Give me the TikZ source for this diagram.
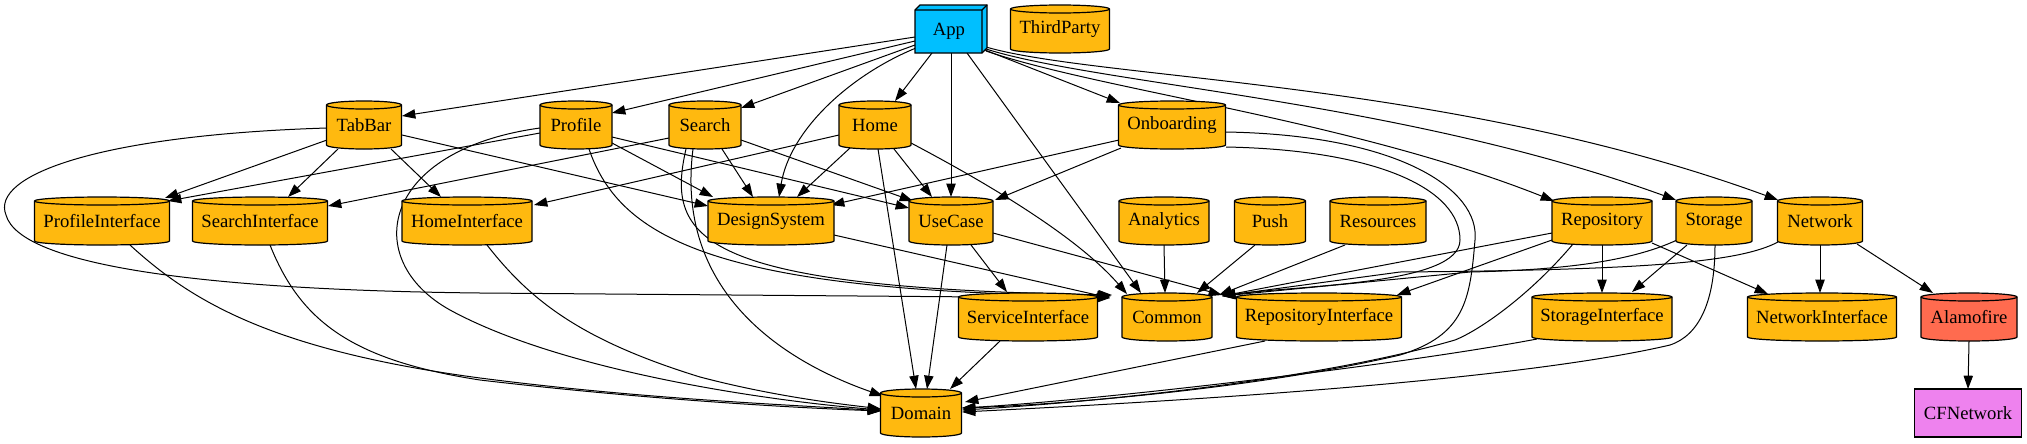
\documentclass[tikz,border=0pt]{standalone}
\usepackage{fontspec}
\setmainfont{Liberation Serif}
\newfontfamily\diagfont{Liberation Serif}
\usetikzlibrary{arrows.meta}
\definecolor{cylcol}{HTML}{FFB90F}
\definecolor{appcol}{HTML}{00BFFF}
\definecolor{alamocol}{HTML}{FF6B4F}
\definecolor{cfcol}{HTML}{EE82EE}
\pgfdeclarelayer{edgelayer}
\pgfsetlayers{edgelayer,main}
\tikzset{
  lbl/.style={inner sep=0pt, minimum height=36pt, font=\diagfont\fontsize{14}{16}\selectfont},
  conn/.style={draw=black, line width=0.75pt, -{Triangle[length=10pt,width=7pt]}},
  nodeline/.style={draw=black, line width=0.9pt},
}
\newcommand\cylnode[5][cylcol]{%
  \begin{scope}[shift={(#3,#4)}]
    \filldraw[fill=#1, nodeline] ({-#5/2},-20) -- ({-#5/2},20)
      arc[start angle=180,end angle=360,x radius={#5*0.375pt},y radius=3pt]
      -- ({#5/2},-20)
      arc[start angle=0,end angle=180,x radius={#5*0.375pt},y radius=3pt] -- cycle;
    \draw[nodeline] ({-#5/2},-20) arc[start angle=180,end angle=360,x radius={#5*0.375pt},y radius=3pt];
  \end{scope}
  \node[lbl, minimum width={#5*0.75pt}] (#2) at (#3,#4) {#2};
}
\begin{document}
\begin{tikzpicture}[x=0.75pt,y=-0.75pt]
\useasboundingbox (0,0) rectangle (2027,443);

% App (box3d)
\filldraw[fill=appcol, nodeline] (915,10) -- (920,5) -- (987,5) -- (987,48) -- (982,53) -- (915,53) -- cycle;
\draw[nodeline] (915,10) -- (982,10) -- (982,53) (982,10) -- (987,5);
\node[lbl, minimum width=50pt, minimum height=32pt] (App) at (949,31) {App};

\cylnode{ThirdParty}{1060}{29}{99}
\cylnode{TabBar}{364}{125}{75}
\cylnode{Profile}{576}{125}{72}
\cylnode{Search}{705}{125}{72}
\cylnode{Home}{875}{125}{72}
\cylnode{Onboarding}{1172}{125}{107}
\cylnode{ProfileInterface}{102}{221}{135}
\cylnode{SearchInterface}{260}{221}{135}
\cylnode{HomeInterface}{467}{221}{130}
\cylnode{DesignSystem}{771}{221}{126}
\cylnode{UseCase}{951}{221}{84}
\cylnode{Analytics}{1164}{221}{90}
\cylnode{Push}{1270}{221}{71}
\cylnode{Resources}{1378}{221}{96}
\cylnode{Repository}{1602}{221}{100}
\cylnode{Storage}{1714}{221}{76}
\cylnode{Network}{1820}{221}{85}
\cylnode{ServiceInterface}{1028}{317}{139}
\cylnode{Common}{1167}{317}{90}
\cylnode{RepositoryInterface}{1319}{317}{165}
\cylnode{StorageInterface}{1602}{317}{140}
\cylnode{NetworkInterface}{1822}{317}{149}
\cylnode[alamocol]{Alamofire}{1969}{317}{96}
\cylnode{Domain}{921}{413}{81}
\node[lbl, nodeline, fill=cfcol, minimum width=80pt] (CFNetwork) at (1968,413) {CFNetwork};

\begin{pgfonlayer}{edgelayer}
% App
\draw[conn] ([shift={(-34,6)}]App.center) -- ([shift={(38,-9)}]TabBar.center);
\draw[conn] ([shift={(-34,10)}]App.center) -- ([shift={(36,-12)}]Profile.center);
\draw[conn] ([shift={(-34,14)}]App.center) -- ([shift={(36,-17)}]Search.center);
\draw[conn] ([shift={(-17,22)}]App.center) -- ([shift={(20,-24)}]Home.center);
\draw[conn] ([shift={(-33,17)}]App.center) .. controls (850,75) and (790,130) .. ([shift={(8,-24)}]DesignSystem.center);
\draw[conn] ([shift={(2,22)}]App.center) -- ([shift={(0,-24)}]UseCase.center);
\draw[conn] ([shift={(18,22)}]App.center) -- ([shift={(-26,-24)}]Common.center);
\draw[conn] ([shift={(36,19)}]App.center) -- ([shift={(-52,-22)}]Onboarding.center);
\draw[conn] ([shift={(37,20)}]App.center) .. controls (1100,90) and (1350,120) .. ([shift={(-48,-20)}]Repository.center);
\draw[conn] ([shift={(37,18)}]App.center) .. controls (1100,85) and (1400,100) .. ([shift={(-38,-21)}]Storage.center);
\draw[conn] ([shift={(37,16)}]App.center) .. controls (1100,80) and (1450,80) .. ([shift={(-42,-21)}]Network.center);
% TabBar
\draw[conn] ([shift={(-37,15)}]TabBar.center) -- ([shift={(63,-23)}]ProfileInterface.center);
\draw[conn] ([shift={(-26,24)}]TabBar.center) -- ([shift={(28,-24)}]SearchInterface.center);
\draw[conn] ([shift={(27,24)}]TabBar.center) -- ([shift={(-26,-24)}]HomeInterface.center);
\draw[conn] ([shift={(38,10)}]TabBar.center) -- ([shift={(-63,-15)}]DesignSystem.center);
\draw[conn] ([shift={(-37,3)}]TabBar.center) .. controls (100,135) and (-10,175) .. (6,215) .. controls (20,265) and (200,290) .. (480,293) -- ([shift={(-57,-19)}]Common.center);
% Profile
\draw[conn] ([shift={(-36,8)}]Profile.center) -- ([shift={(66,-20)}]ProfileInterface.center);
\draw[conn] ([shift={(36,18)}]Profile.center) -- ([shift={(-58,-24)}]DesignSystem.center);
\draw[conn] ([shift={(36,12)}]Profile.center) -- ([shift={(-42,-13)}]UseCase.center);
\draw[conn] ([shift={(13,24)}]Profile.center) .. controls (620,240) and (720,292) .. ([shift={(-56,-21)}]Common.center);
\draw[conn] ([shift={(-36,3)}]Profile.center) .. controls (380,150) and (360,260) .. (450,310) .. controls (560,370) and (760,400) .. ([shift={(-40,-3)}]Domain.center);
% Search
\draw[conn] ([shift={(-36,13)}]Search.center) -- ([shift={(68,-15)}]SearchInterface.center);
\draw[conn] ([shift={(17,24)}]Search.center) -- ([shift={(-18,-24)}]DesignSystem.center);
\draw[conn] ([shift={(36,15)}]Search.center) -- ([shift={(-38,-20)}]UseCase.center);
\draw[conn] ([shift={(-19,24)}]Search.center) .. controls (665,240) and (700,288) .. ([shift={(-55,-22)}]Common.center);
\draw[conn] ([shift={(-12,24)}]Search.center) .. controls (675,290) and (780,360) .. ([shift={(-38,-17)}]Domain.center);
% Home
\draw[conn] ([shift={(-36,10)}]Home.center) -- ([shift={(67,-16)}]HomeInterface.center);
\draw[conn] ([shift={(-25,23)}]Home.center) -- ([shift={(26,-24)}]DesignSystem.center);
\draw[conn] ([shift={(19,24)}]Home.center) -- ([shift={(-19,-24)}]UseCase.center);
\draw[conn] ([shift={(36,18)}]Home.center) .. controls (1000,190) and (1080,240) .. ([shift={(-40,-23)}]Common.center);
\draw[conn] ([shift={(3,24)}]Home.center) -- ([shift={(-5,-24)}]Domain.center);
% Onboarding
\draw[conn] ([shift={(-53,15)}]Onboarding.center) -- ([shift={(60,-16)}]DesignSystem.center);
\draw[conn] ([shift={(-51,23)}]Onboarding.center) -- ([shift={(44,-21)}]UseCase.center);
\draw[conn] ([shift={(54,22)}]Onboarding.center) .. controls (1380,150) and (1460,190) .. (1460,240) .. controls (1460,285) and (1300,285) .. ([shift={(55,-21)}]Common.center);
\draw[conn] ([shift={(54,7)}]Onboarding.center) .. controls (1400,135) and (1480,190) .. (1475,240) .. controls (1470,300) and (1465,335) .. (1400,355) .. controls (1250,390) and (1050,405) .. ([shift={(41,-5)}]Domain.center);
% DesignSystem, UseCase
\draw[conn] ([shift={(63,14)}]DesignSystem.center) -- ([shift={(-57,-19)}]Common.center);
\draw[conn] ([shift={(20,24)}]UseCase.center) -- ([shift={(-21,-25)}]ServiceInterface.center);
\draw[conn] ([shift={(-4,24)}]UseCase.center) -- ([shift={(6,-24)}]Domain.center);
\draw[conn] ([shift={(42,12)}]UseCase.center) -- ([shift={(55,-22)}]Common.center);
% Analytics, Push, Resources
\draw[conn] ([shift={(0,24)}]Analytics.center) -- ([shift={(-2,-24)}]Common.center);
\draw[conn] ([shift={(-15,24)}]Push.center) -- ([shift={(30,-24)}]Common.center);
\draw[conn] ([shift={(-33,24)}]Resources.center) -- ([shift={(52,-22)}]Common.center);
% Repository
\draw[conn] ([shift={(-50,12)}]Repository.center) -- ([shift={(55,-21)}]Common.center);
\draw[conn] ([shift={(-50,19)}]Repository.center) -- ([shift={(78,-22)}]RepositoryInterface.center);
\draw[conn] ([shift={(0,24)}]Repository.center) -- ([shift={(0,-24)}]StorageInterface.center);
\draw[conn] ([shift={(50,22)}]Repository.center) -- ([shift={(-54,-23)}]NetworkInterface.center);
\draw[conn] ([shift={(-29,23)}]Repository.center) .. controls (1530,295) and (1480,330) .. (1455,340) .. controls (1300,385) and (1050,405) .. ([shift={(41,-3)}]Domain.center);
% Storage
\draw[conn] ([shift={(-37,19)}]Storage.center) .. controls (1630,262) and (1560,270) .. (1470,272) -- ([shift={(55,-21)}]Common.center);
\draw[conn] ([shift={(-27,24)}]Storage.center) -- ([shift={(30,-25)}]StorageInterface.center);
\draw[conn] ([shift={(1,24)}]Storage.center) .. controls (1715,300) and (1700,335) .. (1670,345) .. controls (1500,385) and (1100,405) .. ([shift={(41,-1)}]Domain.center);
% Network
\draw[conn] ([shift={(-42,21)}]Network.center) .. controls (1740,262) and (1650,270) .. (1400,272) -- ([shift={(55,-21)}]Common.center);
\draw[conn] ([shift={(0,24)}]Network.center) -- ([shift={(-2,-24)}]NetworkInterface.center);
\draw[conn] ([shift={(37,23)}]Network.center) -- ([shift={(-36,-24)}]Alamofire.center);
\draw[conn] ([shift={(0,24)}]Alamofire.center) -- ([shift={(0,-24)}]CFNetwork.center);
% Interfaces to Domain
\draw[conn] ([shift={(-28,24)}]ServiceInterface.center) -- ([shift={(29,-24)}]Domain.center);
\draw[conn] ([shift={(-54,24)}]RepositoryInterface.center) -- ([shift={(44,-11)}]Domain.center);
\draw[conn] ([shift={(-65,22)}]StorageInterface.center) .. controls (1400,365) and (1100,400) .. ([shift={(41,-5)}]Domain.center);
\draw[conn] ([shift={(28,24)}]ProfileInterface.center) .. controls (190,300) and (270,350) .. (480,378) .. controls (650,400) and (800,405) .. ([shift={(-40,-2)}]Domain.center);
\draw[conn] ([shift={(10,24)}]SearchInterface.center) .. controls (300,320) and (350,360) .. (480,380) .. controls (650,400) and (800,408) .. ([shift={(-40,-2)}]Domain.center);
\draw[conn] ([shift={(20,24)}]HomeInterface.center) .. controls (530,300) and (580,340) .. (700,377) .. controls (780,398) and (850,405) .. ([shift={(-40,-4)}]Domain.center);
\end{pgfonlayer}
\end{tikzpicture}
\end{document}
